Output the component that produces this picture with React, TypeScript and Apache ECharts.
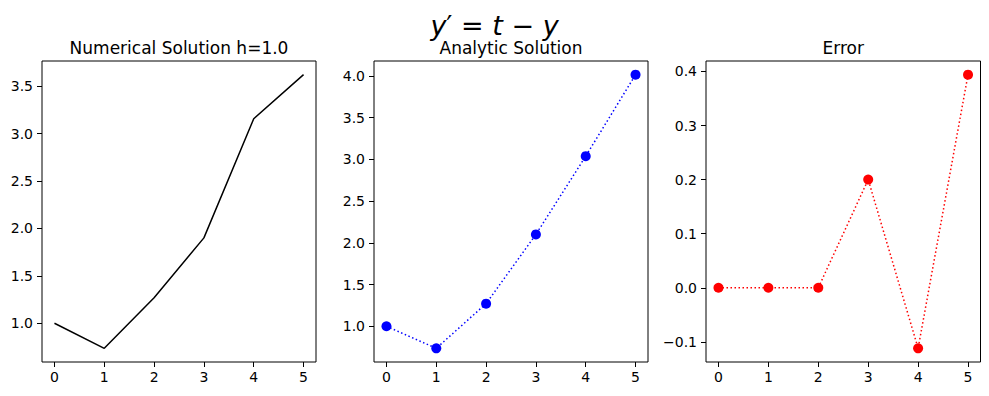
import React, { useEffect, useRef } from "react";
import * as echarts from "echarts";

const tValues = [0, 1, 2, 3, 4, 5];
const numericalValues = [1.0, 0.736, 1.27, 1.9, 3.155, 3.62];
const analyticValues = [1.0, 0.736, 1.271, 2.1, 3.037, 4.013];
const errorValues = [0, 0, 0, 0.2, -0.112, 0.394];

const xTicks = [0, 1, 2, 3, 4, 5];
const yTicksNumerical = [1.0, 1.5, 2.0, 2.5, 3.0, 3.5];
const yTicksAnalytic = [1.0, 1.5, 2.0, 2.5, 3.0, 3.5, 4.0];
const yTicksError = [-0.1, 0.0, 0.1, 0.2, 0.3, 0.4];

const panelTitles = ["Numerical Solution h=1.0", "Analytic Solution", "Error"];

const FONT = "DejaVu Sans";

function pad(vals: number[]) {
  const mn = Math.min(...vals);
  const mx = Math.max(...vals);
  const m = (mx - mn) * 0.05;
  return [mn - m, mx + m];
}

export default function App() {
  const ref = useRef<HTMLDivElement>(null);
  useEffect(() => {
    if (!ref.current) return;
    const chart = echarts.init(ref.current, undefined, { renderer: "svg" });

    const grids = [
      { left: 42, top: 61, width: 274, height: 301 },
      { left: 374, top: 61, width: 274, height: 301 },
      { left: 706, top: 61, width: 274.5, height: 301 },
    ];
    const yData = [numericalValues, analyticValues, errorValues];
    const yTicks = [yTicksNumerical, yTicksAnalytic, yTicksError];
    const xr = pad(tValues);

    const fmt = (v: number) => v.toFixed(1).replace("-", "\u2212");

    const xAxes = grids.map((_, i) => ({
      type: "value",
      gridIndex: i,
      position: "bottom",
      min: xr[0],
      max: xr[1],
      axisLine: { show: false, onZero: false },
      splitLine: { show: false },
      axisTick: {
        show: true,
        inside: false,
        length: 5,
        customValues: xTicks,
        lineStyle: { color: "#000", width: 1 },
      },
      axisLabel: {
        customValues: xTicks,
        margin: 8,
        color: "#000",
        fontFamily: FONT,
        fontSize: 14,
        formatter: (v: number) => String(v),
      },
    }));

    const yAxes = grids.map((_, i) => {
      const r = pad(yData[i]);
      return {
        type: "value",
        gridIndex: i,
        position: "left",
        min: r[0],
        max: r[1],
        axisLine: { show: false, onZero: false },
        splitLine: { show: false },
        axisTick: {
          show: true,
          inside: false,
          length: 5,
          customValues: yTicks[i],
          lineStyle: { color: "#000", width: 1 },
        },
        axisLabel: {
          customValues: yTicks[i],
          margin: 9,
          color: "#000",
          fontFamily: FONT,
          fontSize: 14,
          formatter: (v: number) => fmt(v),
        },
      };
    });

    const dotted = [1.5, 2.5];
    const series = [
      {
        type: "line",
        xAxisIndex: 0,
        yAxisIndex: 0,
        data: tValues.map((t, k) => [t, numericalValues[k]]),
        showSymbol: false,
        symbol: "none",
        lineStyle: { color: "#000", width: 1.5 },
      },
      {
        type: "line",
        xAxisIndex: 1,
        yAxisIndex: 1,
        data: tValues.map((t, k) => [t, analyticValues[k]]),
        symbol: "circle",
        symbolSize: 10,
        itemStyle: { color: "#0000ff" },
        lineStyle: { color: "#0000ff", width: 1.5, type: dotted, cap: "butt" },
      },
      {
        type: "line",
        xAxisIndex: 2,
        yAxisIndex: 2,
        data: tValues.map((t, k) => [t, errorValues[k]]),
        symbol: "circle",
        symbolSize: 10,
        itemStyle: { color: "#ff0000" },
        lineStyle: { color: "#ff0000", width: 1.5, type: dotted, cap: "butt" },
      },
    ];

    const graphics: any[] = grids.map((g, i) => ({
      type: "text",
      x: g.left + g.width / 2,
      y: 48,
      style: {
        text: panelTitles[i],
        fontFamily: FONT,
        fontSize: 17,
        fill: "#000",
        textAlign: "center",
        textVerticalAlign: "middle",
      },
    }));
    graphics.push({
      type: "text",
      x: 494.5,
      y: 25,
      style: {
        text: "{i|y}\u2032 = {i|t} \u2212 {i|y}",
        fontFamily: FONT,
        fontSize: 27,
        fill: "#000",
        textAlign: "center",
        textVerticalAlign: "middle",
        rich: {
          i: { fontStyle: "italic", fontFamily: FONT, fontSize: 27, fill: "#000" },
        },
      },
    });

    chart.setOption({
      animation: false,
      backgroundColor: "#fff",
      grid: grids.map((g) => ({
        ...g,
        show: true,
        borderColor: "#000",
        borderWidth: 1,
        backgroundColor: "transparent",
        containLabel: false,
      })),
      xAxis: xAxes,
      yAxis: yAxes,
      series,
      graphic: graphics,
    });
    return () => chart.dispose();
  }, []);
  return (
    <div
      ref={ref}
      style={{ position: "absolute", left: 0, top: 0, width: 989, height: 396 }}
    />
  );
}
